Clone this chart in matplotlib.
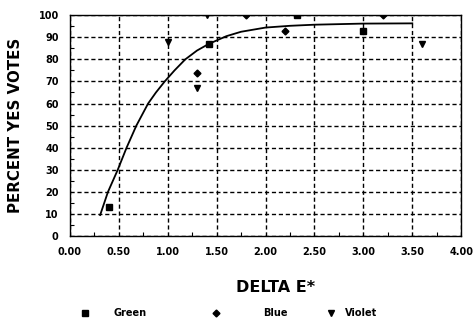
import matplotlib.pyplot as plt
from matplotlib.lines import Line2D
from matplotlib.ticker import MultipleLocator

# Observed votes by colour
green_x = [0.40, 1.42, 2.32, 3.00]
green_y = [13, 87, 100, 93]
blue_x = [1.30, 1.80, 2.20, 3.20]
blue_y = [74, 100, 93, 100]
violet_x = [1.00, 1.30, 1.40, 3.60]
violet_y = [88, 67, 100, 87]

# Fitted response curve
fit_x = [0.31, 0.39, 0.49, 0.58, 0.68, 0.80, 0.88, 0.97, 1.07, 1.18, 1.30, 1.42, 1.60, 1.75,
         2.00, 2.25, 2.50, 3.00, 3.50]
fit_y = [9.5, 20, 30, 40, 50, 60, 65, 70, 75, 80, 84, 87, 90.5, 92.5,
         94.4, 95.2, 95.7, 96.2, 96.3]

x_ticks = [0, 0.5, 1, 1.5, 2, 2.5, 3, 3.5, 4]
x_labels = ['0.00', '0.50', '1.00', '1.50', '2.00', '2.50', '3.00', '3.50', '4.00']

plt.rcParams['font.family'] = ['DejaVu Sans']
plt.rcParams['font.weight'] = 'bold'

fig = plt.figure(figsize=(4.75, 3.2), dpi=100)
ax = fig.add_axes([0.147, 0.2625, 0.824, 0.69])

ax.grid(True, which='major', color='black', linestyle=(0, (3, 2)), linewidth=1.0)
ax.plot(fit_x, fit_y, color='black', linewidth=1.3, zorder=3)
ax.plot(green_x, green_y, 's', color='black', markersize=5, linestyle='none', zorder=4)
ax.plot(blue_x, blue_y, 'D', color='black', markersize=3.5, linestyle='none', zorder=4)
ax.plot(violet_x, violet_y, 'v', color='black', markersize=5, linestyle='none', zorder=4)

ax.set_xlim(0, 4)
ax.set_ylim(0, 100)
ax.set_xticks(x_ticks)
ax.set_xticklabels(x_labels)
ax.xaxis.set_minor_locator(MultipleLocator(0.25))
ax.yaxis.set_major_locator(MultipleLocator(10))
ax.yaxis.set_minor_locator(MultipleLocator(5))
ax.tick_params(which='major', length=0, labelsize=7, pad=8)
ax.tick_params(which='minor', direction='in', length=3, width=0.8)
for lab in ax.get_xticklabels() + ax.get_yticklabels():
    lab.set_fontweight('bold')
for s in ax.spines.values():
    s.set_linewidth(1.0)

ax.set_xlabel('DELTA E*', fontsize=11.5, fontweight='bold')
ax.xaxis.set_label_coords(0.526, -0.2)
ax.set_ylabel('PERCENT YES VOTES', fontsize=10.8, fontweight='bold', labelpad=11)

# legend row under the plot
legend_y = 1 - 313 / 320
for mx, tx, mk, ms, name in [(85, 113, 's', 5, 'Green'), (216, 263, 'D', 3.5, 'Blue'),
                             (331, 345, 'v', 5, 'Violet')]:
    fig.add_artist(Line2D([mx / 475], [legend_y], transform=fig.transFigure,
                          marker=mk, markersize=ms, color='black', linestyle='none'))
    fig.text(tx / 475, legend_y, name, fontsize=7, fontweight='bold', va='center', ha='left')

fig.savefig('out.png', dpi=100)
